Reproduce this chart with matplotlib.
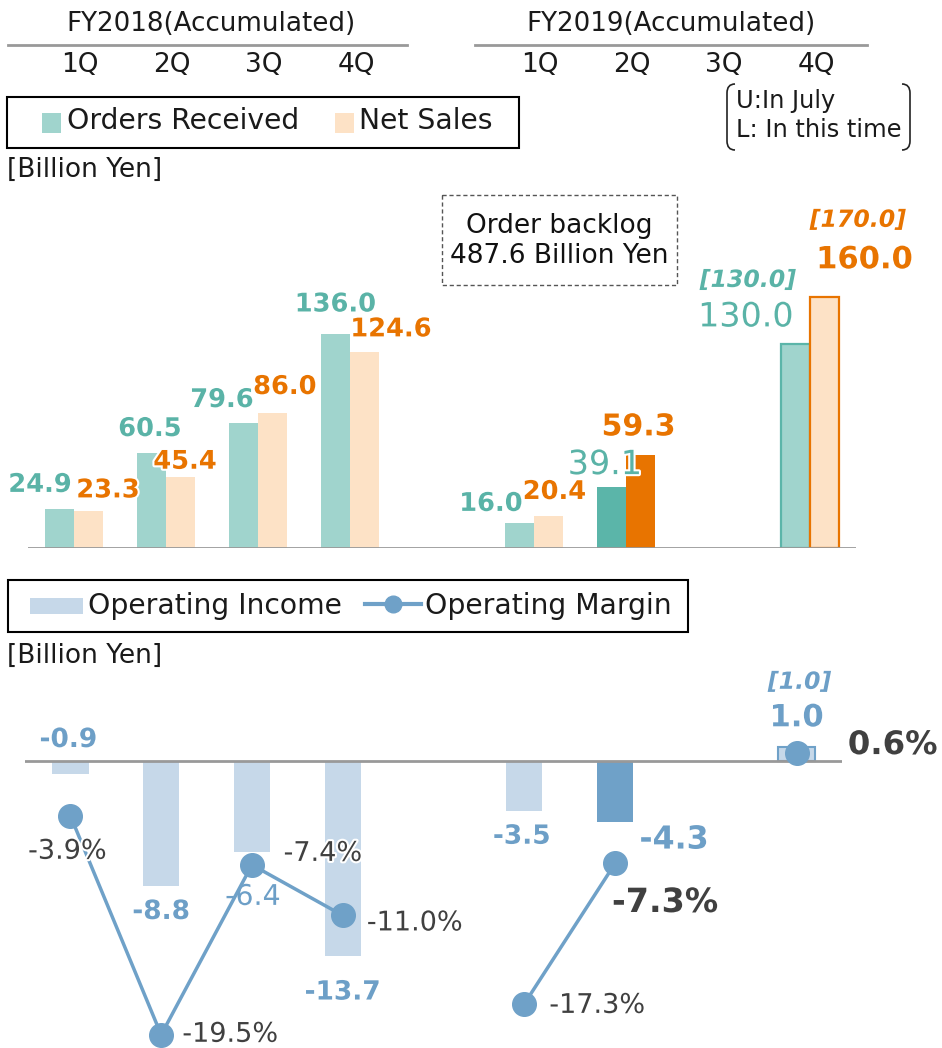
import numpy as np
import matplotlib
matplotlib.use("Agg")
import matplotlib.pyplot as plt
from matplotlib.path import Path
from matplotlib.patches import PathPatch, Rectangle
import matplotlib.patheffects as pe
from matplotlib.lines import Line2D

plt.rcParams['font.family'] = ['DejaVu Sans']

# ---------------- data ----------------
quarters = ['1Q', '2Q', '3Q', '4Q']
fy_labels = ['FY2018(Accumulated)', 'FY2019(Accumulated)']

orders_fy2018 = [24.9, 60.5, 79.6, 136.0]
sales_fy2018 = [23.3, 45.4, 86.0, 124.6]
orders_fy2019 = [16.0, 39.1, None, 130.0]
sales_fy2019 = [20.4, 59.3, None, 160.0]
orders_prev_forecast = 130.0   # U: In July
sales_prev_forecast = 170.0

income_fy2018 = [-0.9, -8.8, -6.4, -13.7]
income_fy2019 = [-3.5, -4.3, None, 1.0]
income_prev_forecast = 1.0
margin_fy2018 = [-3.9, -19.5, -7.4, -11.0]
margin_fy2019 = [-17.3, -7.3, None, 0.6]

backlog_text = ['Order backlog', '487.6 Billion Yen']

# ---------------- colours ----------------
TEAL_L = '#A0D4CD'
TEAL_D = '#5BB5A9'
TEAL_T = '#5AB3A7'
PEACH = '#FDE2C6'
ORANGE = '#E87400'
BLUE_L = '#C6D8E9'
BLUE_D = '#6FA1C8'
BLUE_T = '#6D9FC7'
GRAY_T = '#404040'
TXT = '#1A1A1A'

W, H = 942, 1048
fig = plt.figure(figsize=(W / 100, H / 100), dpi=100)

# pixel-coordinate overlay axes
ax0 = fig.add_axes([0, 0, 1, 1])
ax0.set_xlim(0, W)
ax0.set_ylim(H, 0)
ax0.axis('off')
ax0.set_zorder(5)
ax0.patch.set_alpha(0)


def fax(l, t, r, b):
    return fig.add_axes([l / W, 1 - b / H, (r - l) / W, (b - t) / H])


# ---------------- top chart ----------------
axT = fax(28, 180, 856, 548)
axT.set_xlim(-0.5, 8.5)
axT.set_ylim(0, (548 - 180) / 1.57)
axT.axis('off')
bw = 0.315
pos18 = np.arange(4)
pos19 = np.arange(4) + 5

def nz(v):
    return [np.nan if x is None else x for x in v]

o18, s18 = np.array(orders_fy2018), np.array(sales_fy2018)
o19, s19 = np.array(nz(orders_fy2019)), np.array(nz(sales_fy2019))

axT.bar(pos18 - bw / 2, o18, bw, color=TEAL_L, zorder=2)
axT.bar(pos18 + bw / 2, s18, bw, color=PEACH, zorder=2)
t_cols = [TEAL_L, TEAL_D, TEAL_L, TEAL_L]
s_cols = [PEACH, ORANGE, PEACH, PEACH]
t_edges = ['none', 'none', 'none', TEAL_D]
s_edges = ['none', 'none', 'none', ORANGE]
for i in range(4):
    if np.isnan(o19[i]):
        continue
    axT.bar(pos19[i] - bw / 2, o19[i], bw, color=t_cols[i], edgecolor=t_edges[i], linewidth=1.6, zorder=2)
    axT.bar(pos19[i] + bw / 2, s19[i], bw, color=s_cols[i], edgecolor=s_edges[i], linewidth=1.6, zorder=2)
axT.axhline(0, color='#999999', lw=2, zorder=3)

stroke = [pe.withStroke(linewidth=3, foreground='white')]

def lab(ax, x, y, s, dx, dy, color, size, weight='bold', style='normal'):
    ax.annotate(s, (x, y), xytext=(dx, dy), textcoords='offset pixels', ha='center', va='center',
                color=color, fontsize=size, fontweight=weight, fontstyle=style, zorder=6,
                path_effects=stroke, annotation_clip=False)

t_off18 = [(-19.5, 24), (-1.5, 24), (-21.5, 23), (0, 30)]
s_off18 = [(19.5, 21), (4.5, 15), (12.5, 26), (26.5, 23)]
for i in range(4):
    lab(axT, pos18[i] - bw / 2, o18[i], f'{o18[i]:.1f}', *t_off18[i], TEAL_T, 18.5)
    lab(axT, pos18[i] + bw / 2, s18[i], f'{s18[i]:.1f}', *s_off18[i], ORANGE, 18.5)

lab(axT, pos19[0] - bw / 2, o19[0], f'{o19[0]:.1f}', -28.5, 19, TEAL_T, 18.5)
lab(axT, pos19[0] + bw / 2, s19[0], f'{s19[0]:.1f}', 6, 24, ORANGE, 18.5)
lab(axT, pos19[1] - bw / 2, o19[1], f'{o19[1]:.1f}', -6.5, 22, TEAL_T, 24, weight='normal')
lab(axT, pos19[1] + bw / 2, s19[1], f'{s19[1]:.1f}', -2, 28, ORANGE, 21.6)
lab(axT, pos19[3] - bw / 2, o19[3], f'{o19[3]:.1f}', -49.5, 27, TEAL_T, 24, weight='normal')
lab(axT, pos19[3] - bw / 2, o19[3], f'[{orders_prev_forecast:.1f}]', -47.5, 64, TEAL_T, 17, style='italic')
lab(axT, pos19[3] + bw / 2, s19[3], f'{s19[3]:.1f}', 40, 37, ORANGE, 22)
lab(axT, pos19[3] + bw / 2, s19[3], f'[{sales_prev_forecast:.1f}]', 33.5, 77, ORANGE, 17, style='italic')

# ---------------- bottom chart ----------------
axB = fax(25, 670, 842, 1048)
axB.set_xlim(-0.5, 8.5)
z = 761
axB.set_ylim(-(1048 - z) / 14.2, (z - 670) / 14.2)
axB.axis('off')
axM = axB.twinx()
axM.set_ylim(-(1048 - z) / 14.04, (z - 670) / 14.04)
axM.axis('off')

i18, i19 = np.array(income_fy2018), np.array(nz(income_fy2019))
m18, m19 = np.array(margin_fy2018), np.array(nz(margin_fy2019))
bwb = 0.4
axB.bar(pos18, i18, bwb, color=BLUE_L, zorder=2)
b_cols = [BLUE_L, BLUE_D, BLUE_L, BLUE_L]
b_edges = ['none', 'none', 'none', BLUE_D]
for i in range(4):
    if np.isnan(i19[i]):
        continue
    axB.bar(pos19[i], i19[i], bwb, color=b_cols[i], edgecolor=b_edges[i], linewidth=1.5, zorder=2)
axB.axhline(0, color='#999999', lw=2, zorder=3)

allpos = np.concatenate([pos18, [4], pos19])
allm = np.concatenate([m18, [np.nan], m19])
axM.plot(allpos, allm, color=BLUE_D, lw=2.5, marker='o', ms=17, mfc=BLUE_D, mec=BLUE_D, zorder=4)

# first label sits above the zero line, others below the bar ends
lab(axB, pos18[0], 0, f'{i18[0]:.1f}', -2, 21, BLUE_T, 19)
inc_off18 = [None, (0, -26), (1, -45), (0, -37)]
inc_w18 = [None, 'bold', 'normal', 'bold']
inc_sz18 = [None, 19, 20.5, 19]
for i in range(1, 4):
    v = i18[i]
    lab(axB, pos18[i], v, f'{v:.1f}', *inc_off18[i], BLUE_T, inc_sz18[i], weight=inc_w18[i])
lab(axB, pos19[0], i19[0], f'{i19[0]:.1f}', -2.5, -26, BLUE_T, 19)
lab(axB, pos19[1], i19[1], f'{i19[1]:.1f}', 59, -18, BLUE_T, 22.8)
lab(axB, pos19[3], i19[3], f'{i19[3]:.1f}', 0, 29, BLUE_T, 22)
lab(axB, pos19[3], i19[3], f'[{income_prev_forecast:.1f}]', 3, 65, BLUE_T, 17, style='italic')

m_off18 = [(-3, -36), (69, 0), (71, 11), (72, -8)]
for i in range(4):
    lab(axM, pos18[i], m18[i], f'{m18[i]:.1f}%', *m_off18[i], GRAY_T, 19.5, weight='normal')
lab(axM, pos19[0], m19[0], f'{m19[0]:.1f}%', 73, -2, GRAY_T, 19.5, weight='normal')
lab(axM, pos19[1], m19[1], f'{m19[1]:.1f}%', 50, -39, GRAY_T, 24)
lab(axM, pos19[3], m19[3], f'{m19[3]:.1f}%', 96, 7, GRAY_T, 23.3)

# ---------------- header ----------------
ax0.text(211, 24, fy_labels[0], ha='center', va='center', fontsize=18.8, color=TXT)
ax0.text(671, 24, fy_labels[1], ha='center', va='center', fontsize=18.8, color=TXT)
ax0.plot([8, 407], [45, 45], color='#999999', lw=2)
ax0.plot([475, 867], [45, 45], color='#999999', lw=2)
for i, q in enumerate(quarters):
    ax0.text(74 + 92 * pos18[i] + 6, 65, q, ha='center', va='center', fontsize=19, color=TXT)
    ax0.text(74 + 92 * pos19[i] + 6, 65, q, ha='center', va='center', fontsize=19, color=TXT)

# top legend
ax0.add_patch(Rectangle((7, 97), 512, 51, fill=False, ec='black', lw=1.5))
ax0.add_patch(Rectangle((42, 113), 19, 20, color=TEAL_L, lw=0))
ax0.text(67, 121, 'Orders Received', ha='left', va='center', fontsize=20.3, color=TXT)
ax0.add_patch(Rectangle((335, 113), 19, 20, color=PEACH, lw=0))
ax0.text(359, 121, 'Net Sales', ha='left', va='center', fontsize=20.3, color=TXT)

# bracket note
for sgn, xe in [(1, 727), (-1, 910)]:
    verts = [(xe + sgn * 8, 84), (xe, 84), (xe, 93), (xe, 141), (xe, 150), (xe + sgn * 8, 150)]
    codes = [Path.MOVETO, Path.CURVE3, Path.CURVE3, Path.LINETO, Path.CURVE3, Path.CURVE3]
    ax0.add_patch(PathPatch(Path(verts, codes), fill=False, ec='#222222', lw=1.2))
ax0.text(736, 101, 'U:In July', ha='left', va='center', fontsize=17.4, color=TXT)
ax0.text(736, 130, 'L: In this time', ha='left', va='center', fontsize=17.4, color=TXT)

ax0.text(7, 170, '[Billion Yen]', ha='left', va='center', fontsize=19, color=TXT)

# order backlog box
ax0.add_patch(Rectangle((442, 195), 235, 90, fill=False, ec='#555555', lw=1, ls=(0, (3, 2))))
ax0.text(559, 226, backlog_text[0], ha='center', va='center', fontsize=19, color='#111111')
ax0.text(559, 256, backlog_text[1], ha='center', va='center', fontsize=19, color='#111111')

# bottom legend
ax0.add_patch(Rectangle((8, 580), 680, 52, fill=False, ec='black', lw=1.5))
ax0.add_patch(Rectangle((30, 598), 53, 16, color=BLUE_L, lw=0))
ax0.text(88, 606, 'Operating Income', ha='left', va='center', fontsize=20.3, color=TXT)
ax0.add_line(Line2D([365, 421], [604, 604], color=BLUE_D, lw=3))
ax0.add_line(Line2D([393], [604], marker='o', ms=12, color=BLUE_D))
ax0.text(425, 606, 'Operating Margin', ha='left', va='center', fontsize=20.3, color=TXT)

ax0.text(7, 656, '[Billion Yen]', ha='left', va='center', fontsize=19, color=TXT)

fig.savefig('out.png', dpi=100)
